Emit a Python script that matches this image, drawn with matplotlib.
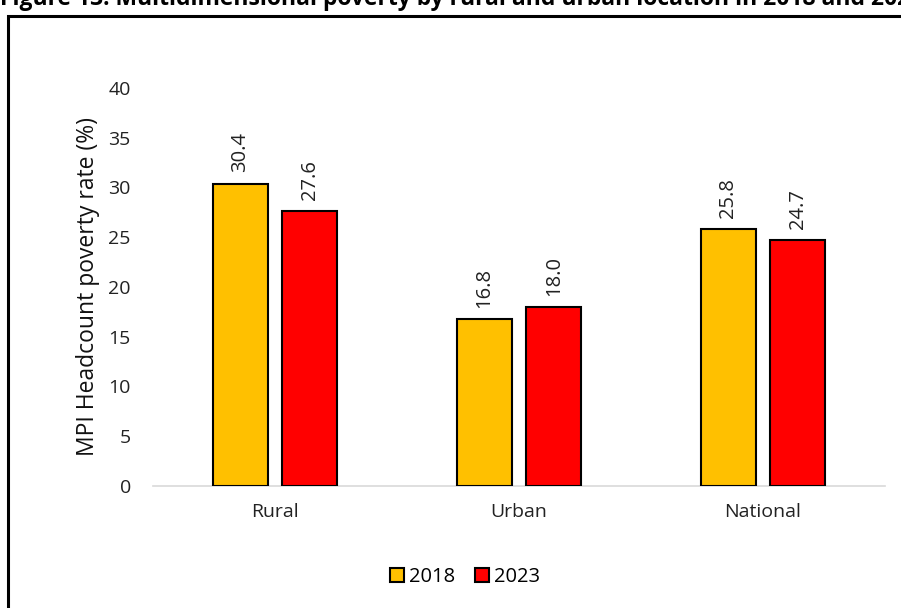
import matplotlib
matplotlib.use("Agg")
import matplotlib.pyplot as plt
from matplotlib.patches import Rectangle, Patch
import numpy as np

categories = ["Rural", "Urban", "National"]
series_names = ["2018", "2023"]
values_2018 = [30.4, 16.8, 25.8]
values_2023 = [27.6, 18.0, 24.7]
yticks = [0, 5, 10, 15, 20, 25, 30, 35, 40]
title = "Figure 13: Multidimensional poverty by rural and urban location in 2018 and 2023"
ylabel = "MPI Headcount poverty rate (%)"

colors = ["#FFC000", "#FF0000"]
plt.rcParams['font.family'] = ['Open Sans', 'DejaVu Sans']

fig = plt.figure(figsize=(9.01, 6.08), dpi=100)
ax = fig.add_axes([153/901, 1-486/608, (885-153)/901, (486-88)/608])

x = np.arange(len(categories))
w = 0.226
off = 0.143
for vals, c, o, name in zip([values_2018, values_2023], colors, [-off, off], series_names):
    bars = ax.bar(x + o, vals, width=w, color=c, edgecolor='black', linewidth=1.5, label=name, zorder=3)
    for b, v in zip(bars, vals):
        ax.annotate(f"{v:.1f}", (b.get_x() + b.get_width()/2, v), xytext=(0, 8),
                    textcoords='offset points', rotation=90, ha='center', va='bottom',
                    fontsize=14.5, color='#222222')

ax.set_xlim(-0.5, 2.5)
ax.set_ylim(0, 40)
ax.set_yticks(yticks)
ax.set_xticks(x)
ax.set_xticklabels(categories)
ax.tick_params(axis='both', length=0, labelsize=14, labelcolor='#222222')
ax.tick_params(axis='x', pad=12)
ax.tick_params(axis='y', pad=16)
for s in ['top', 'right', 'left']:
    ax.spines[s].set_visible(False)
ax.spines['bottom'].set_color('#D9D9D9')
ax.spines['bottom'].set_linewidth(1.2)
ax.set_ylabel(ylabel, fontsize=16.5, color='#111111', labelpad=6)

handles = [Patch(facecolor=c, edgecolor='black', linewidth=1.5, label=n) for c, n in zip(colors, series_names)]
fig.legend(handles=handles, loc='center', bbox_to_anchor=(465/901, 1-577/608), ncol=2,
           frameon=False, fontsize=14.5, handlelength=0.7, handleheight=0.7,
           handletextpad=0.25, columnspacing=1.0)

# outer frame
fig.patches.append(Rectangle((8/901, -0.05), 1.0, 1-16/608+0.05, transform=fig.transFigure,
                             fill=False, edgecolor='black', linewidth=2.2))
fig.text(0.0, 1 + 1/608, title, ha='left', va='center', fontsize=16.5, fontweight='bold',
         color='black')

fig.savefig("out.png", dpi=100)
